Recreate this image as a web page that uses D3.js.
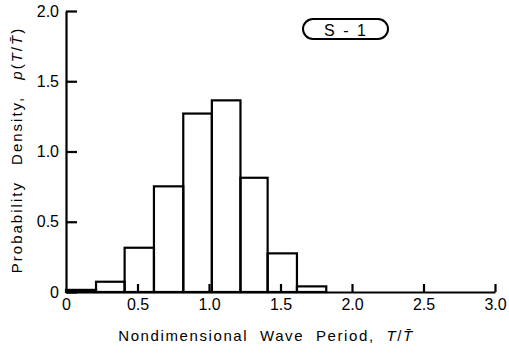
<!DOCTYPE html>
<html>
<head>
<meta charset="utf-8">
<script src="https://cdn.jsdelivr.net/npm/d3@7"></script>
<style>
  body { margin: 0; background: #fff; }
  svg text { font-family: "Liberation Sans", Arial, sans-serif; fill: #000; }
</style>
</head>
<body>
<div id="chart"></div>
<script>
var binEdges = [0, 0.21, 0.41, 0.615, 0.82, 1.02, 1.22, 1.41, 1.615, 1.82];
var density = [0.015, 0.073, 0.315, 0.752, 1.27, 1.364, 0.813, 0.275, 0.04];
var xTicks = [0, 0.5, 1.0, 1.5, 2.0, 2.5, 3.0];
var yTicks = [0, 0.5, 1.0, 1.5, 2.0];
var caseLabel = "S - 1";

var svg_dx = 509, svg_dy = 354;

var x = d3.scaleLinear().domain([0, 3]).range([66, 495]);
var y = d3.scaleLinear().domain([0, 2]).range([292, 11]);

var fmt = function (d) { return d === 0 ? "0" : d3.format(".1f")(d); };

var svg = d3.select("#chart")
    .append("svg")
    .attr("width", svg_dx)
    .attr("height", svg_dy);

// bars
var bars = density.map(function (v, i) { return {x0: binEdges[i], x1: binEdges[i + 1], v: v}; });

svg.append("g")
   .selectAll("rect")
   .data(bars)
   .enter()
   .append("rect")
   .attr("x", d => x(d.x0))
   .attr("width", d => x(d.x1) - x(d.x0))
   .attr("y", d => y(d.v))
   .attr("height", d => y(0) - y(d.v))
   .style("fill", "none")
   .style("stroke", "#000")
   .style("stroke-width", 2.2);

// x axis, ticks pointing inward
var gx = svg.append("g")
   .attr("transform", "translate(0," + y(0) + ")")
   .call(d3.axisBottom(x).tickValues(xTicks).tickFormat(fmt)
          .tickSizeInner(-8).tickSizeOuter(0).tickPadding(7));

// y axis, ticks pointing inward
var gy = svg.append("g")
   .attr("transform", "translate(" + x(0) + ",0)")
   .call(d3.axisLeft(y).tickValues(yTicks).tickFormat(fmt)
          .tickSizeInner(-11).tickSizeOuter(0).tickPadding(7));

[gx, gy].forEach(function (g) {
  g.select(".domain").style("stroke-width", 2.2);
  g.selectAll(".tick line").style("stroke-width", 2.2);
  g.selectAll("text").style("font-size", "16px").style("font-family", "'Liberation Sans', Arial, sans-serif");
});
gx.selectAll(".tick").filter(d => d === 0).select("line").remove();

// axis titles
svg.append("text")
   .attr("x", 266)
   .attr("y", 341)
   .attr("text-anchor", "middle")
   .style("font-size", "15px")
   .style("letter-spacing", "1.6px")
   .style("word-spacing", "6px")
   .html('Nondimensional Wave Period, <tspan font-style="italic">T</tspan>/<tspan font-style="italic">T\u0304</tspan>');

svg.append("text")
   .attr("transform", "translate(22,150) rotate(-90)")
   .attr("text-anchor", "middle")
   .style("font-size", "15px")
   .style("letter-spacing", "2px")
   .style("word-spacing", "10px")
   .html('Probability Density, <tspan font-style="italic">p</tspan>(<tspan font-style="italic">T</tspan>/<tspan font-style="italic">T\u0304</tspan>)');

// case label in pill box
svg.append("rect")
   .attr("x", 303)
   .attr("y", 19)
   .attr("width", 85)
   .attr("height", 20)
   .attr("rx", 10)
   .style("fill", "none")
   .style("stroke", "#000")
   .style("stroke-width", 2);

svg.append("text")
   .attr("x", 346)
   .attr("y", 35.5)
   .attr("text-anchor", "middle")
   .style("font-size", "16px")
   .style("letter-spacing", "2px")
   .text(caseLabel);
</script>
</body>
</html>
